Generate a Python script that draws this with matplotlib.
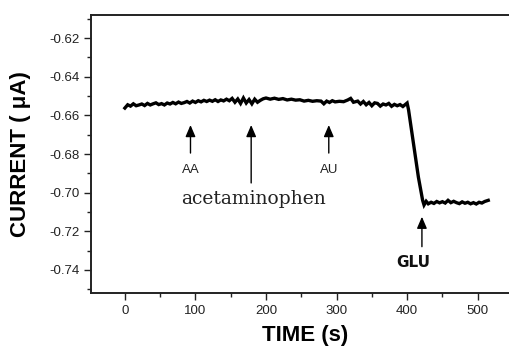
import matplotlib
matplotlib.use('Agg')
import matplotlib.pyplot as plt
from matplotlib.ticker import MultipleLocator, FormatStrFormatter

# amperometric trace (time in s, current in uA)
t = [0, 4, 8, 12, 16, 20, 24, 28, 32, 36, 40, 44, 48, 52, 56, 60, 64, 68, 72, 76,
     80, 84, 88, 92, 96, 100, 104, 108, 112, 116, 120, 124, 128, 132, 136, 140, 144,
     148, 152, 156, 160, 164, 168, 172, 176, 180, 184, 188, 192, 196, 200, 206, 212,
     218, 224, 230, 236, 242, 248, 254, 260, 266, 272, 278, 282, 286, 290, 294, 298,
     304, 310, 316, 320, 324, 330, 334, 338, 342, 346, 350, 354, 358, 362, 366, 370,
     374, 378, 382, 386, 390, 394, 398, 400, 402, 404, 408, 412, 416, 420, 422, 424,
     427, 430, 434, 438, 442, 446, 450, 454, 458, 462, 466, 470, 474, 478, 482, 486,
     490, 494, 498, 502, 506, 510, 515]
i = [-0.6562, -0.6545, -0.6552, -0.6540, -0.6550, -0.6546, -0.6541, -0.6549, -0.6538,
     -0.6546, -0.6540, -0.6535, -0.6544, -0.6539, -0.6546, -0.6536, -0.6541, -0.6533,
     -0.6540, -0.6531, -0.6538, -0.6534, -0.6528, -0.6536, -0.6526, -0.6533, -0.6524,
     -0.6530, -0.6522, -0.6528, -0.6521, -0.6527, -0.6519, -0.6528, -0.6520, -0.6525,
     -0.6516, -0.6524, -0.6512, -0.6532, -0.6515, -0.6538, -0.6510, -0.6536, -0.6518,
     -0.6540, -0.6516, -0.6532, -0.6522, -0.6514, -0.6510, -0.6516, -0.6511, -0.6517,
     -0.6513, -0.6520, -0.6516, -0.6521, -0.6519, -0.6526, -0.6522, -0.6527, -0.6524,
     -0.6526, -0.6540, -0.6526, -0.6533, -0.6524, -0.6530, -0.6527, -0.6529, -0.6520,
     -0.6512, -0.6532, -0.6526, -0.6541, -0.6528, -0.6545, -0.6533, -0.6550, -0.6535,
     -0.6538, -0.6552, -0.6541, -0.6546, -0.6538, -0.6553, -0.6543, -0.6550, -0.6544,
     -0.6554, -0.6542, -0.6536, -0.6570, -0.6620, -0.6720, -0.6820, -0.6920, -0.7000,
     -0.7040, -0.7064, -0.7045, -0.7058, -0.7050, -0.7056, -0.7046, -0.7053, -0.7047,
     -0.7054, -0.7040, -0.7052, -0.7045, -0.7052, -0.7057, -0.7048, -0.7055, -0.7050,
     -0.7058, -0.7052, -0.7059, -0.7050, -0.7054, -0.7046, -0.7040]

# injections: label, time, arrow top, arrow bottom, label position
inj_labels = ['AA', 'acetaminophen', 'AU', 'GLU']
inj_t = [93, 179, 289, 421]
inj_top = [-0.6650, -0.6650, -0.6650, -0.7125]
inj_bot = [-0.6795, -0.6950, -0.6795, -0.7280]
inj_label_y = [-0.6885, -0.7033, -0.6885, -0.7360]
inj_label_x = [93, 183, 289, 409]

fig = plt.figure(figsize=(5.09, 3.5), dpi=100)
ax = fig.add_axes([91/509, 57/350, 429/509, 278/350])

ax.plot(t, i, color='k', lw=2.4, solid_joinstyle='miter')

for lab, x0, y1, y0, ly, lx in zip(inj_labels, inj_t, inj_top, inj_bot, inj_label_y, inj_label_x):
    ax.annotate('', xy=(x0, y1), xytext=(x0, y0),
                arrowprops=dict(arrowstyle='-|>,head_length=0.7,head_width=0.3', color='k',
                                lw=1.0, mutation_scale=10, shrinkA=0, shrinkB=0))
    if lab == 'acetaminophen':
        ax.text(lx, ly, lab, ha='center', va='center', fontsize=13.5, family='DejaVu Serif',
                color='#222')
    elif lab == 'GLU':
        ax.text(lx, ly, lab, ha='center', va='center', fontsize=11, fontweight='bold',
                color='#111')
    else:
        ax.text(lx, ly, lab, ha='center', va='center', fontsize=9.5, family='Liberation Sans',
                color='#222')

ax.set_xlim(-48, 560)
ax.set_ylim(-0.752, -0.608)
ax.xaxis.set_major_locator(MultipleLocator(100))
ax.xaxis.set_minor_locator(MultipleLocator(50))
ax.yaxis.set_major_locator(MultipleLocator(0.02))
ax.yaxis.set_minor_locator(MultipleLocator(0.01))
ax.yaxis.set_major_formatter(FormatStrFormatter('%.2f'))

ax.tick_params(which='major', direction='out', length=5, width=1, labelsize=9.5, colors='#222')
ax.tick_params(which='minor', direction='out', length=3, width=1, colors='#222')
for lbl in ax.get_xticklabels() + ax.get_yticklabels():
    lbl.set_family('Liberation Sans')

for s in ax.spines.values():
    s.set_linewidth(1.4)
    s.set_color('#222')

ax.set_xlabel('TIME (s)', fontsize=16, fontweight='bold', family='Liberation Sans', labelpad=6)
ax.set_ylabel('CURRENT ( \u03bcA)', fontsize=16, fontweight='bold', family='Liberation Sans',
              labelpad=13)

fig.savefig('out.png', dpi=100)
